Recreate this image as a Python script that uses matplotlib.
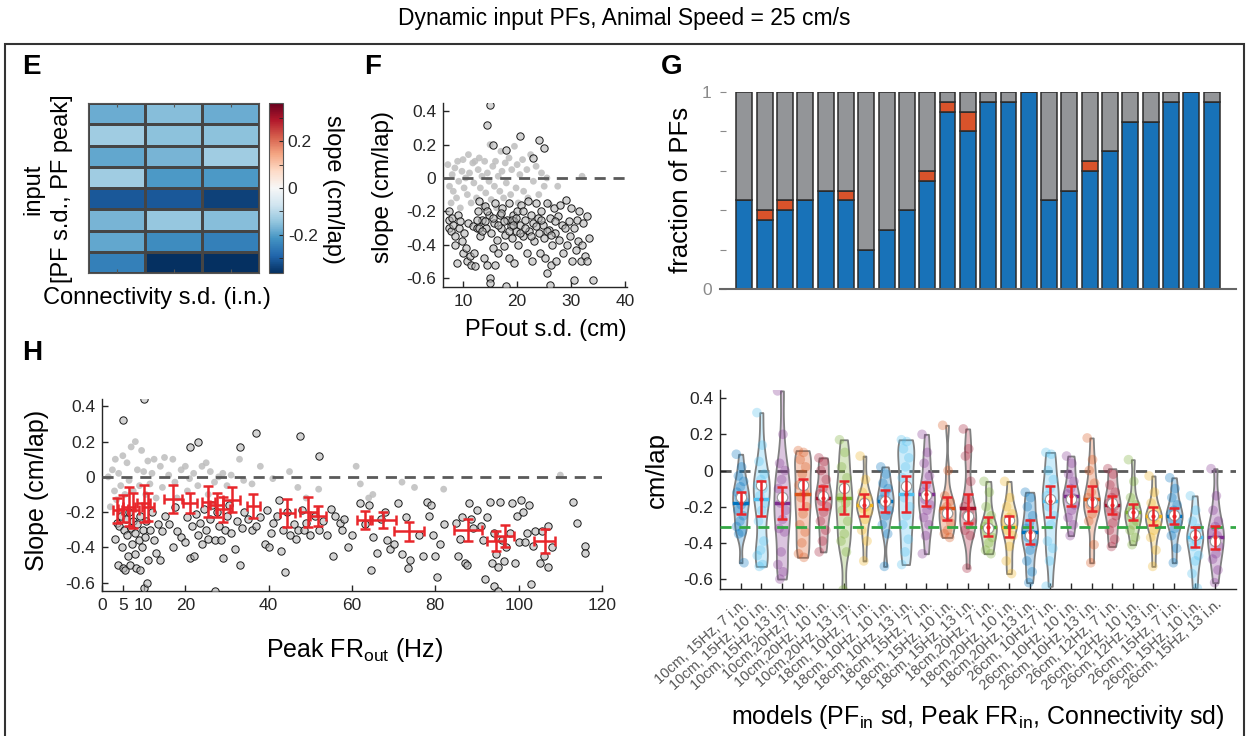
import numpy as np
import matplotlib
matplotlib.use("Agg")
import matplotlib.pyplot as plt
from matplotlib.colors import to_rgba
from matplotlib.patches import Rectangle

plt.rcParams['font.family'] = ['Liberation Sans', 'DejaVu Sans']
plt.rcParams['mathtext.fontset'] = 'custom'
plt.rcParams['mathtext.rm'] = 'Liberation Sans'
plt.rcParams['axes.unicode_minus'] = False

W, H = 1247, 736

# ---------------- data ----------------
models = ["10cm, 15Hz, 7 i.n.", "10cm, 15Hz, 10 i.n.", "10cm, 15Hz, 13 i.n.",
          "10cm,20Hz,7 i.n.", "10cm,20Hz, 10 i.n.", "10cm,20Hz, 13 i.n.",
          "18cm, 10Hz, 7 i.n.", "18cm, 10Hz, 10 i.n.", "18cm, 10Hz, 13 i.n.",
          "18cm, 15Hz, 7 i.n.", "18cm, 15Hz, 10 i.n.", "18cm, 15Hz, 13 i.n.",
          "18cm,20Hz, 7 i.n.", "18cm,20Hz, 10 i.n.", "18cm,20Hz, 13 i.n.",
          "26cm, 10Hz,7 i.n.", "26cm, 10Hz, 10 i.n.", "26cm, 10Hz, 13 i.n.",
          "26cm, 12Hz, 7 i.n.", "26cm, 12Hz, 10 i.n.", "26cm, 12Hz, 13 i.n.",
          "26cm, 15Hz, 7 i.n.", "26cm, 15Hz, 10 i.n.", "26cm, 15Hz, 13 i.n."]

# fraction of PFs per model (blue = backward shifting, red = forward, grey = rest)
frac_blue = [0.45, 0.35, 0.40, 0.45, 0.50, 0.45, 0.20, 0.30, 0.40, 0.55, 0.90, 0.80,
             0.95, 0.95, 1.00, 0.45, 0.50, 0.60, 0.70, 0.85, 0.85, 0.95, 1.00, 0.95]
frac_red = [0, 0.05, 0.05, 0, 0, 0.05, 0, 0, 0, 0.05, 0.05, 0.10,
            0, 0, 0, 0, 0, 0.05, 0, 0, 0, 0, 0, 0]

model_mean = [-0.18, -0.155, -0.18, -0.13, -0.15, -0.15, -0.19, -0.17, -0.13, -0.13, -0.21, -0.21,
              -0.31, -0.31, -0.34, -0.17, -0.14, -0.155, -0.19, -0.23, -0.25, -0.25, -0.37, -0.37]
model_err = [0.06, 0.096, 0.09, 0.085, 0.063, 0.092, 0.06, 0.062, 0.10, 0.068, 0.066, 0.082,
             0.054, 0.06, 0.065, 0.085, 0.054, 0.071, 0.049, 0.046, 0.049, 0.045, 0.055, 0.063]
model_median = [-0.146, -0.08, -0.146, -0.08, -0.14, -0.094, -0.18, -0.17, -0.083, -0.137, -0.234, -0.25,
                -0.32, -0.275, -0.358, -0.155, -0.155, -0.173, -0.18, -0.234, -0.247, -0.247, -0.358, -0.39]
exp_mean = -0.315

model_slopes = [
    [0.09, 0.02, -0.03, -0.06, -0.09, -0.12, -0.14, -0.15, -0.17, -0.19, -0.22, -0.25, -0.28, -0.31, -0.34, -0.35, -0.51],
    [0.32, 0.14, 0.05, -0.02, -0.05, -0.08, -0.10, -0.14, -0.18, -0.22, -0.28, -0.39, -0.44, -0.47, -0.52, -0.53],
    [0.44, 0.20, 0.04, 0.00, -0.05, -0.10, -0.15, -0.18, -0.22, -0.27, -0.32, -0.34, -0.45, -0.52, -0.56, -0.60],
    [0.11, 0.10, 0.06, 0.02, -0.02, -0.08, -0.12, -0.15, -0.20, -0.24, -0.30, -0.34, -0.40, -0.46, -0.48],
    [0.07, 0.05, 0.00, -0.05, -0.10, -0.13, -0.15, -0.17, -0.20, -0.23, -0.28, -0.33, -0.39, -0.45],
    [0.17, 0.10, 0.02, -0.04, -0.10, -0.15, -0.18, -0.22, -0.28, -0.35, -0.39, -0.45, -0.66],
    [0.08, -0.05, -0.12, -0.15, -0.17, -0.19, -0.20, -0.21, -0.23, -0.27, -0.33, -0.39, -0.50],
    [0.02, -0.02, -0.07, -0.10, -0.13, -0.16, -0.17, -0.19, -0.22, -0.25, -0.30, -0.35, -0.53],
    [0.17, 0.16, 0.12, 0.07, 0.02, -0.04, -0.10, -0.15, -0.20, -0.25, -0.30, -0.38, -0.45, -0.52],
    [0.20, 0.10, 0.04, -0.03, -0.08, -0.12, -0.14, -0.16, -0.19, -0.22, -0.26, -0.30, -0.36, -0.46],
    [0.25, 0.00, -0.14, -0.17, -0.20, -0.22, -0.24, -0.26, -0.29, -0.33, -0.35, -0.37],
    [0.23, 0.12, 0.08, -0.06, -0.16, -0.20, -0.23, -0.25, -0.28, -0.30, -0.33, -0.36, -0.54],
    [-0.06, -0.12, -0.20, -0.25, -0.29, -0.31, -0.32, -0.34, -0.37, -0.40, -0.44, -0.46],
    [-0.06, -0.15, -0.20, -0.24, -0.26, -0.28, -0.30, -0.33, -0.36, -0.42, -0.50, -0.57],
    [-0.12, -0.15, -0.20, -0.25, -0.29, -0.32, -0.35, -0.37, -0.40, -0.44, -0.50, -0.56, -0.62],
    [0.10, 0.09, 0.00, -0.05, -0.10, -0.14, -0.16, -0.20, -0.25, -0.30, -0.39, -0.43, -0.50, -0.64],
    [0.08, 0.04, -0.02, -0.06, -0.10, -0.13, -0.15, -0.16, -0.19, -0.22, -0.26, -0.30, -0.36],
    [0.18, 0.06, 0.00, -0.07, -0.12, -0.15, -0.17, -0.19, -0.21, -0.24, -0.28, -0.41, -0.51],
    [0.01, -0.02, -0.08, -0.12, -0.15, -0.18, -0.20, -0.22, -0.25, -0.29, -0.33, -0.38, -0.42],
    [0.06, -0.06, -0.15, -0.19, -0.21, -0.23, -0.24, -0.26, -0.28, -0.30, -0.33, -0.37, -0.41],
    [-0.03, -0.12, -0.18, -0.22, -0.24, -0.25, -0.26, -0.28, -0.30, -0.33, -0.37, -0.44, -0.53],
    [-0.04, -0.10, -0.15, -0.19, -0.22, -0.24, -0.25, -0.27, -0.29, -0.32, -0.36, -0.43, -0.51],
    [-0.14, -0.22, -0.28, -0.32, -0.35, -0.37, -0.39, -0.42, -0.47, -0.50, -0.57, -0.65],
    [0.01, -0.14, -0.22, -0.28, -0.31, -0.34, -0.36, -0.39, -0.42, -0.46, -0.49, -0.55, -0.62],
]

# panel F: slope vs PF s.d. (significant = black circles, n.s. = grey dots)
F_sig = [(7.5, -0.2), (7.5, -0.25), (7.5, -0.3), (7.8, -0.32), (8, -0.24), (8.2, -0.28), (8.5, -0.35), (8.5, -0.4),
         (8.8, -0.51), (9, -0.22), (9.2, -0.3), (9.5, -0.26), (9.8, -0.38), (10, -0.45), (10.2, -0.33), (10.5, -0.42),
         (10.8, -0.5), (11, -0.27), (11.2, -0.47), (11.5, -0.52), (11.8, -0.29), (12, -0.45), (12.2, -0.53), (12.5, -0.3),
         (12.8, -0.2), (13, -0.14), (13.2, -0.35), (13.5, -0.25), (13.8, -0.48), (14, -0.17), (14.2, -0.3), (14.5, -0.52),
         (14.5, 0.32), (14.8, -0.22), (15, 0.44), (15, -0.6), (15, -0.63), (15.2, -0.33), (15.5, 0.2), (15.5, -0.42),
         (15.8, -0.27), (16, -0.15), (16, -0.52), (16.2, -0.37), (16.5, -0.45), (16.8, -0.22), (17, -0.3), (17.2, -0.18),
         (17.5, -0.41), (17.8, -0.34), (18, 0.17), (18, -0.65), (18.2, -0.25), (18.5, -0.15), (18.5, -0.48), (18.8, -0.29),
         (19, -0.36), (19.2, -0.22), (19.5, -0.26), (19.5, -0.51), (19.8, -0.32), (20, -0.2), (20.2, -0.4), (20.5, 0.25),
         (20.5, -0.28), (20.8, -0.16), (21, -0.35), (21.5, -0.25), (21.8, -0.45), (22, -0.14), (22.2, -0.32), (22.5, -0.22),
         (22.8, -0.5), (23, 0.12), (23, -0.27), (23.2, -0.38), (23.5, -0.15), (23.8, -0.24), (24, 0.23), (24, -0.33),
         (24.2, -0.45), (24.5, -0.2), (24.8, -0.28), (25, 0.18), (25, -0.36), (25.2, -0.48), (25.5, -0.15), (25.5, -0.57),
         (25.8, -0.31), (26, -0.64), (26, -0.24), (26.2, -0.52), (26.5, -0.4), (26.8, -0.18), (27, -0.33), (27.2, -0.5),
         (27.5, -0.23), (27.8, -0.37), (28, -0.16), (28.2, -0.28), (28.5, -0.45), (28.8, -0.3), (29, -0.13), (29.2, -0.4),
         (29.5, -0.26), (29.8, -0.35), (30, -0.18), (30.2, -0.5), (30.5, -0.61), (30.5, -0.3), (30.8, -0.43), (31, -0.25),
         (31.2, -0.38), (31.5, -0.2), (31.8, -0.5), (32, -0.4), (32.2, -0.27), (32.5, -0.47), (33, -0.23), (33, -0.5),
         (33.2, -0.36), (34, -0.61), (12.5, -0.25), (13, -0.3), (13.5, -0.32), (14, -0.26), (14.5, -0.2), (15.5, -0.24),
         (16.5, -0.28), (17, -0.21), (17.5, -0.26), (18.5, -0.32), (19, -0.25), (19.2, -0.28), (19.8, -0.24), (20.5, -0.33),
         (21, -0.2), (21.5, -0.3), (22.5, -0.35), (23.5, -0.29), (24.5, -0.25), (25.5, -0.32), (26.2, -0.34), (27, -0.26)]
F_ns = [(7.2, 0.08), (7.5, -0.05), (7.8, -0.15), (8, 0.02), (8.2, -0.08), (8.5, 0.06), (8.8, -0.12), (9, 0.1),
        (9.2, -0.02), (9.5, -0.18), (9.8, 0.04), (10, 0.11), (10.2, -0.06), (10.5, 0.0), (10.8, -0.1), (11, 0.14),
        (11.2, 0.03), (11.5, -0.15), (11.8, 0.09), (12, -0.03), (12.2, 0.1), (12.5, -0.12), (12.8, 0.05), (13, 0.12),
        (13.2, -0.06), (13.5, 0.01), (13.8, -0.17), (14, 0.1), (14.2, -0.09), (14.5, 0.03), (14.8, -0.02), (15, 0.2),
        (15.2, -0.13), (15.5, 0.07), (15.8, -0.05), (16, 0.1), (16.2, -0.18), (16.5, 0.01), (16.8, -0.08), (17, 0.16),
        (17.2, 0.04), (17.5, -0.12), (17.8, 0.09), (18, -0.03), (18.5, 0.12), (18.8, -0.1), (19, 0.05), (19.5, 0.19),
        (19.8, -0.06), (20, 0.08), (20.2, -0.15), (20.5, 0.02), (21, 0.11), (21.2, -0.08), (21.8, 0.05), (22, -0.12),
        (22.5, 0.14), (23, -0.02), (23.5, 0.07), (24, -0.1), (24.5, 0.03), (25, -0.05), (25.5, 0.0), (26, -0.16),
        (27.5, -0.05), (32, 0.01)]

# panel H: slope vs peak output firing rate
H_sig = [(3, -0.35), (3.5, -0.26), (3.8, -0.5), (4, -0.28), (4.5, -0.22), (4.8, -0.4), (5, 0.32), (5, -0.52),
         (5.2, -0.3), (5.5, -0.53), (5.8, -0.24), (6, -0.33), (6.2, -0.45), (6.5, -0.2), (6.8, -0.5), (7, -0.29),
         (7.2, -0.38), (7.5, -0.25), (7.8, -0.44), (8, -0.32), (8.2, -0.52), (8.5, -0.27), (8.8, -0.36), (9, -0.53),
         (9.2, -0.22), (9.5, -0.4), (9.8, -0.3), (10, 0.44), (10, -0.63), (10.2, -0.34), (10.5, -0.25), (10.8, -0.6),
         (11, -0.47), (11.5, -0.3), (12, -0.2), (12.5, -0.36), (13, -0.43), (13.5, -0.27), (14, -0.47), (14.5, -0.31),
         (15, -0.22), (16, -0.27), (17, -0.4), (17.5, -0.17), (18, -0.31), (19, -0.34), (20, -0.37), (20.5, -0.23),
         (21, 0.17), (21, -0.46), (21.5, -0.28), (22, -0.45), (22.5, -0.21), (23, 0.2), (23, -0.33), (23.5, -0.26),
         (24, -0.38), (24.5, -0.18), (25, -0.3), (25.5, -0.35), (26, -0.24), (26.5, -0.16), (27, -0.65), (27, -0.36),
         (27.5, -0.2), (28, -0.28), (28.5, -0.36), (29, -0.46), (29.5, -0.3), (30, -0.22), (30.5, -0.16), (31, -0.32),
         (32, -0.41), (32.5, -0.25), (33, 0.17), (33, -0.5), (33.5, -0.29), (34, -0.2), (35, -0.24), (36, -0.3),
         (37, 0.25), (37, -0.28), (38, -0.23), (39, -0.38), (39.5, -0.19), (40, -0.4), (40.5, -0.32), (41, -0.26),
         (42, -0.22), (42.5, -0.13), (43, -0.42), (43.5, -0.3), (44, -0.54), (44.5, -0.2), (45, -0.33), (46, -0.27),
         (46.5, -0.35), (47, -0.3), (47.5, 0.23), (48, -0.19), (48.5, -0.3), (49, -0.26), (50, -0.33), (51, -0.22),
         (52, 0.12), (52, -0.3), (53, -0.25), (54, -0.33), (55, -0.18), (55.5, -0.45), (56, -0.22), (57, -0.26),
         (57.5, -0.3), (58, -0.24), (59, -0.4), (60, -0.33), (62, -0.15), (63, -0.27), (64, -0.16), (64.5, -0.53),
         (65, -0.34), (66, -0.43), (67, -0.24), (68, -0.2), (68.5, -0.36), (69, -0.41), (70, -0.38), (71, -0.15),
         (72, -0.44), (73, -0.23), (73.5, -0.52), (74, -0.47), (76, -0.33), (77, -0.45), (78, -0.14), (78.5, -0.22),
         (79, -0.16), (79.5, -0.33), (80, -0.45), (80.5, -0.57), (81, -0.38), (82, -0.27), (85, -0.26), (85.5, -0.45),
         (86, -0.35), (86.5, -0.23), (87, -0.49), (87.5, -0.5), (88, -0.15), (88.5, -0.24), (89, -0.29), (90, -0.19),
         (91, -0.28), (91.5, -0.36), (92, -0.58), (92.5, -0.23), (93, -0.14), (93.5, -0.49), (94, -0.62), (94, -0.32),
         (94.5, -0.44), (95, -0.65), (95, -0.51), (95.5, -0.14), (96, -0.36), (96.5, -0.48), (97, -0.4), (98, -0.32),
         (98.5, -0.15), (99, -0.49), (99.5, -0.22), (100, -0.37), (100.5, -0.13), (101, -0.2), (101.5, -0.37),
         (102, -0.32), (102.5, -0.16), (103, -0.61), (103.5, -0.39), (104, -0.31), (105, -0.49), (105.5, -0.31),
         (106, -0.45), (107, -0.28), (107, -0.51), (108, -0.4), (113, -0.14), (114, -0.26), (116, -0.39), (116, -0.43)]
H_ns = [(1.5, 0.0), (2, -0.17), (2.5, 0.04), (3, -0.08), (3.2, 0.1), (3.5, -0.13), (4, 0.02), (4.5, -0.05),
        (5, 0.12), (5.5, -0.1), (6, 0.08), (6.5, -0.02), (7, 0.17), (7.5, -0.08), (8, 0.2), (8.5, 0.04), (9, -0.05),
        (9.5, 0.15), (10, 0.03), (10.5, -0.1), (11, 0.09), (11.5, -0.04), (12, 0.02), (12.5, 0.1), (13, -0.12),
        (14, 0.06), (14.5, -0.06), (15, 0.11), (16, 0.01), (17, 0.1), (17.5, -0.03), (18, -0.12), (19, 0.04),
        (20, 0.06), (20.5, -0.08), (21, -0.01), (22, 0.02), (23, -0.05), (24, 0.06), (25, 0.08), (25.5, -0.1),
        (26, 0.03), (27, -0.03), (28, 0.0), (29, 0.02), (30, -0.05), (31, 0.01), (33, 0.1), (34, -0.02), (36, -0.04),
        (38, 0.06), (41, -0.01), (45, 0.03), (47, -0.06), (49, -0.12), (52, -0.07), (61, 0.06), (62, -0.04),
        (64, -0.12), (65, -0.1), (72, -0.03), (75, -0.06), (82, -0.07), (110, 0.01)]

# binned means in H: x, y, x error, y error
bin_fr = [3.7, 5.0, 6.5, 7.5, 10.0, 11.0, 17.0, 21.1, 25.5, 27.5, 29.0, 31.1, 36.3, 44.4, 49.5, 51.8,
          63.0, 67.5, 73.7, 87.8, 94.5, 96.6, 106.2]
bin_slope = [-0.19, -0.18, -0.17, -0.19, -0.15, -0.17, -0.125, -0.146, -0.14, -0.16, -0.185, -0.13, -0.165,
             -0.205, -0.2, -0.22, -0.245, -0.245, -0.31, -0.30, -0.364, -0.334, -0.364]
bin_fr_err = [1.1, 1.2, 1.5, 1.3, 1.6, 1.5, 2.2, 1.6, 1.6, 1.5, 1.6, 2.0, 1.6, 1.8, 2.0, 2.0,
              1.7, 3.1, 3.6, 3.4, 2.0, 2.2, 2.5]
bin_slope_err = [0.07, 0.076, 0.11, 0.10, 0.106, 0.08, 0.08, 0.057, 0.09, 0.066, 0.07, 0.07, 0.07,
                 0.08, 0.085, 0.057, 0.05, 0.046, 0.052, 0.062, 0.057, 0.062, 0.066]

violin_colors = ['#0072BD', '#4DBEEE', '#7E2F8E', '#D95319', '#A2142F', '#77AC30', '#EDB120']
axis_col = '#262626'
red = '#E8262B'


def rect(l, t, r, b):
    return [l / W, 1 - b / H, (r - l) / W, (b - t) / H]


def px(x, y):
    return x / W, 1 - y / H


def style(ax):
    for s in ['top', 'right']:
        ax.spines[s].set_visible(False)
    for s in ['left', 'bottom']:
        ax.spines[s].set_color(axis_col)
        ax.spines[s].set_linewidth(1.0)
    ax.tick_params(direction='in', length=4, width=1, colors=axis_col, labelsize=12.5, pad=5)


fig = plt.figure(figsize=(W / 100, H / 100), dpi=100)

# outer frame and title
fig.add_artist(Rectangle(px(5, 800), (1244 - 5) / W, (800 - 44) / H, transform=fig.transFigure,
                         fill=False, lw=1.5, edgecolor='#333333'))
fig.text(*px(624, 18), "Dynamic input PFs, Animal Speed = 25 cm/s", ha='center', va='center', fontsize=16.5)

# ---------------- E: heatmap ----------------
axE = fig.add_axes(rect(88, 103, 259, 273))
axCB = fig.add_axes(rect(269, 103, 283, 273))
vlim = 0.365
grid = np.array(model_mean).reshape(8, 3)
mesh = axE.pcolormesh(np.arange(4), np.arange(9), grid, cmap='RdBu_r', vmin=-vlim, vmax=vlim,
                      edgecolors='#454545', linewidth=1.0)
axE.set_xlim(0, 3)
axE.set_ylim(8, 0)
axE.set_xticks([0.5, 1.5, 2.5])
axE.set_xticklabels([])
axE.set_yticks([])
axE.tick_params(direction='in', length=3, top=True, bottom=True, colors='#555555')
for s in axE.spines.values():
    s.set_color('#555555')
cb = fig.colorbar(mesh, cax=axCB)
cb.set_ticks([-0.2, 0, 0.2])
cb.set_ticklabels(['-0.2', '0', '0.2'])
cb.ax.set_yticks([-0.3, -0.1, 0.1, 0.3], minor=True)
cb.ax.tick_params(which='both', direction='in', length=3, colors=axis_col, labelsize=12.5)
cb.outline.set_edgecolor('#555555')
fig.text(*px(333, 189), "slope (cm/lap)", rotation=270, ha='center', va='center', fontsize=17)
fig.text(*px(33, 189), "input", rotation=90, ha='center', va='center', fontsize=17)
fig.text(*px(62, 189), "[PF s.d., PF peak]", rotation=90, ha='center', va='center', fontsize=17)
fig.text(*px(157, 298), "Connectivity s.d. (i.n.)", ha='center', va='center', fontsize=17)
fig.text(*px(22, 67), "E", ha='left', va='center', fontsize=20, fontweight='bold')

# ---------------- F: scatter ----------------
axF = fig.add_axes(rect(443, 103, 627, 287))
style(axF)
fx, fy = np.array(F_ns).T
axF.scatter(fx, fy, s=24, color='#bdbdbd', alpha=0.85, edgecolors='none', zorder=2)
fx, fy = np.array(F_sig).T
axF.scatter(fx, fy, s=28, facecolor=(0.72, 0.72, 0.72, 0.6), edgecolors='#1a1a1a', linewidths=0.7, zorder=3)
axF.axhline(0, color='#5a5a5a', ls=(0, (4, 2.8)), lw=2, zorder=4)
axF.set_xlim(6.3, 40.3)
axF.set_ylim(-0.655, 0.45)
axF.set_xticks([10, 20, 30, 40])
axF.set_yticks([-0.6, -0.4, -0.2, 0, 0.2, 0.4])
axF.set_yticklabels(['-0.6', '-0.4', '-0.2', '0', '0.2', '0.4'])
fig.text(*px(383, 187), "slope (cm/lap)", rotation=90, ha='center', va='center', fontsize=17.5)
fig.text(*px(546, 330), "PFout s.d. (cm)", ha='center', va='center', fontsize=17)
fig.text(*px(364, 67), "F", ha='left', va='center', fontsize=20, fontweight='bold')

# ---------------- G: stacked bars ----------------
axG = fig.add_axes(rect(720, 92, 1236, 289))
pos = np.arange(1, len(models) + 1)
fb = np.array(frac_blue)
fr = np.array(frac_red)
bar_kw = dict(width=0.78, edgecolor='#2b2b2b', linewidth=1.1)
axG.bar(pos, fb, color='#1872B8', **bar_kw)
axG.bar(pos, fr, bottom=fb, color='#D9532B', **bar_kw)
axG.bar(pos, 1 - fb - fr, bottom=fb + fr, color='#939598', **bar_kw)
axG.set_xlim(-0.2, 25.2)
axG.set_ylim(0, 1)
axG.set_xticks([])
axG.set_yticks([0, 0.2, 0.4, 0.6, 0.8, 1])
axG.set_yticklabels(['0', '', '', '', '', '1'])
for s in ['top', 'right', 'left']:
    axG.spines[s].set_visible(False)
axG.spines['bottom'].set_color('#666666')
axG.spines['bottom'].set_linewidth(1.5)
axG.tick_params(direction='in', length=4, colors='#8a8a8a', labelsize=12.5, pad=6)
fig.text(*px(681, 190), "fraction of PFs", rotation=90, ha='center', va='center', fontsize=18.5)
fig.text(*px(661, 67), "G", ha='left', va='center', fontsize=20, fontweight='bold')

# ---------------- H: slope vs peak FR ----------------
axH = fig.add_axes(rect(102, 399, 602, 591))
style(axH)
hx, hy = np.array(H_ns).T
axH.scatter(hx, hy, s=24, color='#bdbdbd', alpha=0.85, edgecolors='none', zorder=2)
hx, hy = np.array(H_sig).T
axH.scatter(hx, hy, s=28, facecolor=(0.72, 0.72, 0.72, 0.6), edgecolors='#1a1a1a', linewidths=0.7, zorder=3)
axH.axhline(0, color='#5a5a5a', ls=(0, (4, 2.8)), lw=2, zorder=4)
axH.errorbar(bin_fr, bin_slope, xerr=bin_fr_err, yerr=bin_slope_err, fmt='none', ecolor=red,
             elinewidth=1.8, capsize=3.5, capthick=1.8, zorder=5)
axH.set_xlim(0, 120)
axH.set_ylim(-0.648, 0.442)
axH.set_xticks([0, 5, 10, 20, 40, 60, 80, 100, 120])
axH.set_yticks([-0.6, -0.4, -0.2, 0, 0.2, 0.4])
axH.set_yticklabels(['-0.6', '-0.4', '-0.2', '0', '0.2', '0.4'])
fig.text(*px(37, 490), "Slope (cm/lap)", rotation=90, ha='center', va='center', fontsize=18)
fig.text(*px(355, 650), r"Peak FR$_{\mathrm{out}}$ (Hz)", ha='center', va='center', fontsize=18)
fig.text(*px(22, 353), "H", ha='left', va='center', fontsize=20, fontweight='bold')

# ---------------- violins ----------------
axV = fig.add_axes(rect(720, 390, 1236, 589))
style(axV)
vp = axV.violinplot(model_slopes, positions=pos, widths=0.78, showextrema=False, bw_method=0.35)
for i, body in enumerate(vp['bodies']):
    c = violin_colors[i % 7]
    body.set_alpha(None)
    body.set_facecolor(to_rgba(c, 0.28))
    body.set_edgecolor('#808080')
    body.set_linewidth(1.3)
    body.set_zorder(2)
for i, vals in enumerate(model_slopes):
    c = violin_colors[i % 7]
    n = len(vals)
    jit = ((np.arange(n) * 0.618) % 1 - 0.5) * 0.42
    axV.scatter(pos[i] + jit, vals, s=48, color=to_rgba(c, 0.3), edgecolors='none', zorder=3)
    axV.plot([pos[i] - 0.3, pos[i] + 0.3], [model_mean[i]] * 2, color=c, lw=2.5, zorder=4)
axV.axhline(0, color='#5a5a5a', ls=(0, (4, 2.8)), lw=2, zorder=1)
axV.axhline(exp_mean, color='#33A845', ls=(0, (4, 2.8)), lw=2, zorder=5)
axV.scatter(pos, model_median, s=55, facecolor='white', edgecolors='#9a9a9a', linewidths=0.8, zorder=6)
axV.errorbar(pos, model_mean, yerr=model_err, fmt='.', color=red, ms=4, elinewidth=1.8,
             capsize=3.5, capthick=1.8, zorder=7)
axV.set_xlim(0, 25)
axV.set_ylim(-0.655, 0.445)
axV.set_yticks([-0.6, -0.4, -0.2, 0, 0.2, 0.4])
axV.set_yticklabels(['-0.6', '-0.4', '-0.2', '0', '0.2', '0.4'])
axV.set_xticks(pos)
axV.set_xticklabels(models, rotation=42, ha='right', va='top', rotation_mode='anchor',
                    fontsize=10.5, color='#555555')
axV.tick_params(axis='x', pad=6)
fig.text(*px(657, 470), "cm/lap", rotation=90, ha='center', va='center', fontsize=18.5)
fig.text(*px(978, 717), r"models (PF$_{\mathrm{in}}$ sd, Peak FR$_{\mathrm{in}}$, Connectivity sd)",
         ha='center', va='center', fontsize=18)

fig.savefig("out.png", dpi=100)
